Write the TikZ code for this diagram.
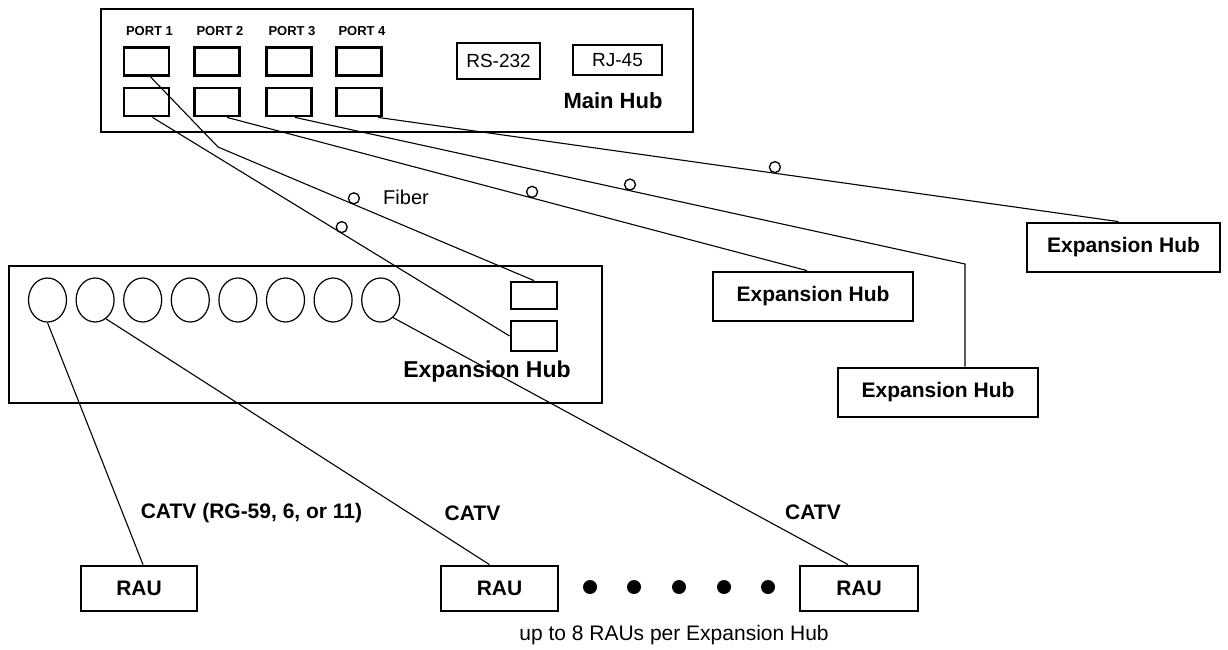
\documentclass[tikz,border=0pt]{standalone}
\usepackage{fontspec}
\setmainfont{Liberation Sans}
\usetikzlibrary{shapes.geometric}

\begin{document}
\begin{tikzpicture}[x=1pt, y=-1pt,
    box/.style={draw, line width=2.8pt, inner sep=0pt},
    portbox/.style={box, minimum width=45pt, minimum height=28pt},
    hub/.style={box, minimum width=200pt, minimum height=49pt, font=\fontsize{21}{25}\selectfont\bfseries},
    rau/.style={box, minimum width=117pt, minimum height=45pt, font=\fontsize{21}{25}\selectfont\bfseries},
    jack/.style={ellipse, draw, line width=1.2pt, minimum width=38pt, minimum height=44pt, inner sep=0pt},
    fibcirc/.style={circle, draw, line width=1.3pt, minimum size=11pt, inner sep=0pt, anchor=south},
    cable/.style={line width=1.1pt},
    bold/.style={font=\fontsize{21}{25}\selectfont\bfseries},
    plain/.style={font=\fontsize{20}{24}\selectfont}]
    \useasboundingbox (0,0) rectangle (1228,649);

    % main hub
    \node[box, minimum width=592pt, minimum height=123pt] (main) at (397,70.5) {};
    \foreach \i/\x in {1/146.5,2/217,3/289,4/359} {
        \node[font=\fontsize{13}{15}\selectfont\bfseries] (lab\i) at (\x+3,31) {PORT \i};
        \node[portbox] (pt\i) at (\x,61.5) {};
        \node[portbox] (pb\i) at (\x,102) {};
    }
    \node[box, minimum width=83pt, minimum height=36pt, font=\fontsize{19}{23}\selectfont] (rs) at (498.5,61) {RS-232};
    \node[draw, line width=1.8pt, inner sep=0pt, minimum width=89pt, minimum height=30pt, font=\fontsize{19}{23}\selectfont] (rj) at (617.5,60) {RJ-45};
    \node[font=\fontsize{22}{26}\selectfont\bfseries] (mainlab) at (613,101) {Main Hub};

    % expansion hub (detail)
    \node[box, minimum width=593pt, minimum height=137pt] (exp) at (305.5,334.5) {};
    \foreach \i in {1,...,8}
        \node[jack] (e\i) at (47.5+47.6*\i-47.6,300) {};
    \node[portbox, minimum width=46pt, minimum height=27pt] (s1) at (534,295.5) {};
    \node[portbox, minimum width=46pt, minimum height=30pt] (s2) at (534,336) {};
    \node[font=\fontsize{23}{27}\selectfont\bfseries] (explab) at (487,372) {Expansion Hub};

    % other expansion hubs
    \node[hub] (hubA) at (813,296.5) {Expansion Hub};
    \node[hub] (hubB) at (938,392.5) {Expansion Hub};
    \node[hub, minimum width=193pt] (hubC) at (1123.5,247.5) {Expansion Hub};

    % RAUs
    \node[rau, minimum width=116pt] (r1) at (139,588.5) {RAU};
    \node[rau] (r2) at (499.5,588.5) {RAU};
    \node[rau, minimum width=118pt] (r3) at (859,588.5) {RAU};
    \foreach \x in {590,634,679,724,768}
        \fill (\x,587) circle (7pt);

    % fiber
    \coordinate (bend1) at (218,147);
    \coordinate (bend3) at (965,264);
    \draw[cable] ([xshift=4pt]pt1.south) -- (bend1) -- node[fibcirc, pos=0.43] (c1) {} (s1.north);
    \draw[cable] ([xshift=6pt]pb1.south) -- node[fibcirc, pos=0.53] (c2) {} (s2.west);
    \draw[cable] ([xshift=10pt]pb2.south) -- node[fibcirc, pos=0.526] (c3) {} ([xshift=-6pt]hubA.north);
    \draw[cable] ([xshift=6pt]pb3.south) -- node[fibcirc, pos=0.5] (c4) {} (bend3) -- (bend3 |- hubB.north);
    \draw[cable] ([xshift=19pt]pb4.south) -- node[fibcirc, pos=0.536] (c5) {} ([xshift=-5pt]hubC.north);
    \node[plain] (fib) at (406,197) {Fiber};

    % CATV
    \draw[cable] (e1.south) -- ([xshift=4pt]r1.north);
    \draw[cable] (e2.-60) -- ([xshift=-10pt]r2.north);
    \draw[cable] (e8.-55) -- ([xshift=-11pt]r3.north);
    \node[bold] (catv1) at (251.5,513) {CATV (RG-59, 6, or 11)};
    \node[bold] (catv2) at (472.5,513) {CATV};
    \node[bold] (catv3) at (813,512) {CATV};
    \node[plain, font=\fontsize{21}{25}\selectfont] (note) at (674,635) {up to 8 RAUs per Expansion Hub};
\end{tikzpicture}
\end{document}
